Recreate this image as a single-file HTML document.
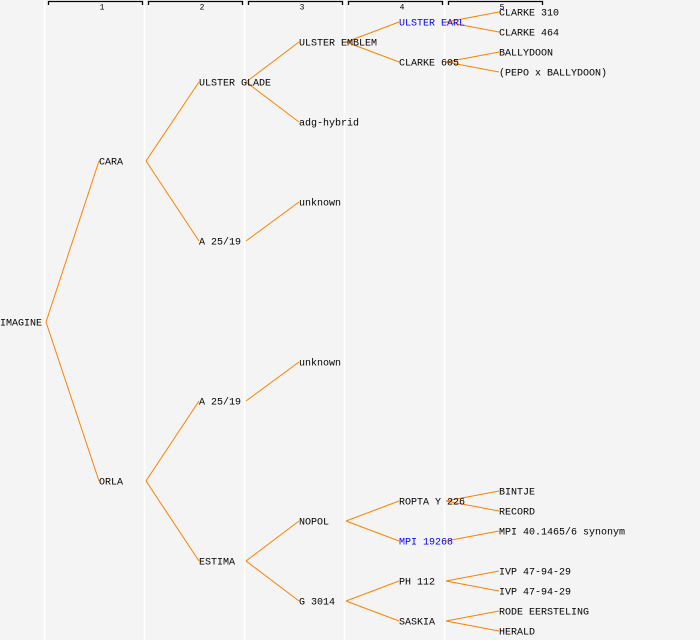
<!DOCTYPE html>
<html><head><meta charset="utf-8"><style>
html,body{margin:0;padding:0;background:#f4f4f4;}
svg{display:block}
text{font-family:"Liberation Mono","DejaVu Sans Mono",monospace;font-size:10px;fill:#000;dominant-baseline:central}
.b{fill:#0000ff}
.n{font-size:8px;text-anchor:middle}
line.l{stroke:#ff8000;stroke-width:1}
line.g{stroke:#ffffff;stroke-width:1.5}
path.h{stroke:#000;fill:none;stroke-width:1.3}
</style></head><body>
<svg width="700" height="640" viewBox="0 0 700 640">
<rect width="700" height="640" fill="#f4f4f4"/>
<line class="g" x1="44.5" y1="0" x2="44.5" y2="640"/>
<line class="g" x1="144.5" y1="0" x2="144.5" y2="640"/>
<line class="g" x1="244.5" y1="0" x2="244.5" y2="640"/>
<line class="g" x1="344.5" y1="0" x2="344.5" y2="640"/>
<line class="g" x1="444.5" y1="0" x2="444.5" y2="640"/>
<path class="h" d="M48.5 5V1.5H142.5V5"/>
<path class="h" d="M148.5 5V1.5H242.5V5"/>
<path class="h" d="M248.5 5V1.5H342.5V5"/>
<path class="h" d="M348.5 5V1.5H442.5V5"/>
<path class="h" d="M448.5 5V1.5H542.5V5"/>
<text class="n" x="102" y="8">1</text>
<text class="n" x="202" y="8">2</text>
<text class="n" x="302" y="8">3</text>
<text class="n" x="402" y="8">4</text>
<text class="n" x="502" y="8">5</text>
<g>
<line class="l" x1="46" y1="322" x2="99" y2="161"/>
<line class="l" x1="46" y1="322" x2="99" y2="481"/>
<line class="l" x1="146" y1="161" x2="199" y2="82"/>
<line class="l" x1="146" y1="161" x2="199" y2="241"/>
<line class="l" x1="146" y1="481" x2="199" y2="401"/>
<line class="l" x1="146" y1="481" x2="199" y2="561"/>
<line class="l" x1="246" y1="82" x2="299" y2="42"/>
<line class="l" x1="246" y1="82" x2="299" y2="122"/>
<line class="l" x1="246" y1="241" x2="299" y2="202"/>
<line class="l" x1="246" y1="401" x2="299" y2="362"/>
<line class="l" x1="246" y1="561" x2="299" y2="521"/>
<line class="l" x1="246" y1="561" x2="299" y2="601"/>
<line class="l" x1="346" y1="42" x2="399" y2="22"/>
<line class="l" x1="346" y1="42" x2="399" y2="62"/>
<line class="l" x1="346" y1="521" x2="399" y2="501"/>
<line class="l" x1="346" y1="521" x2="399" y2="541"/>
<line class="l" x1="346" y1="601" x2="399" y2="581"/>
<line class="l" x1="346" y1="601" x2="399" y2="621"/>
<line class="l" x1="446" y1="22" x2="499" y2="12"/>
<line class="l" x1="446" y1="22" x2="499" y2="32"/>
<line class="l" x1="446" y1="62" x2="499" y2="52"/>
<line class="l" x1="446" y1="62" x2="499" y2="72"/>
<line class="l" x1="446" y1="501" x2="499" y2="491"/>
<line class="l" x1="446" y1="501" x2="499" y2="511"/>
<line class="l" x1="446" y1="541" x2="499" y2="531"/>
<line class="l" x1="446" y1="581" x2="499" y2="571"/>
<line class="l" x1="446" y1="581" x2="499" y2="591"/>
<line class="l" x1="446" y1="621" x2="499" y2="611"/>
<line class="l" x1="446" y1="621" x2="499" y2="631"/>
</g>
<g>
<text x="0" y="322" dy="2">IMAGINE</text>
<text x="99" y="161" dy="2">CARA</text>
<text x="99" y="481" dy="2">ORLA</text>
<text x="199" y="82" dy="2">ULSTER GLADE</text>
<text x="199" y="241" dy="2">A 25/19</text>
<text x="199" y="401" dy="2">A 25/19</text>
<text x="199" y="561" dy="2">ESTIMA</text>
<text x="299" y="42" dy="2">ULSTER EMBLEM</text>
<text x="299" y="122" dy="2">adg-hybrid</text>
<text x="299" y="202" dy="2">unknown</text>
<text x="299" y="362" dy="2">unknown</text>
<text x="299" y="521" dy="2">NOPOL</text>
<text x="299" y="601" dy="2">G 3014</text>
<text x="399" y="22" dy="2" class="b">ULSTER EARL</text>
<text x="399" y="62" dy="2">CLARKE 605</text>
<text x="399" y="501" dy="2">ROPTA Y 226</text>
<text x="399" y="541" dy="2" class="b">MPI 19268</text>
<text x="399" y="581" dy="2">PH 112</text>
<text x="399" y="621" dy="2">SASKIA</text>
<text x="499" y="12" dy="2">CLARKE 310</text>
<text x="499" y="32" dy="2">CLARKE 464</text>
<text x="499" y="52" dy="2">BALLYDOON</text>
<text x="499" y="72" dy="2">(PEPO x BALLYDOON)</text>
<text x="499" y="491" dy="2">BINTJE</text>
<text x="499" y="511" dy="2">RECORD</text>
<text x="499" y="531" dy="2">MPI 40.1465/6 synonym</text>
<text x="499" y="571" dy="2">IVP 47-94-29</text>
<text x="499" y="591" dy="2">IVP 47-94-29</text>
<text x="499" y="611" dy="2">RODE EERSTELING</text>
<text x="499" y="631" dy="2">HERALD</text>
</g>
</svg>
</body></html>
